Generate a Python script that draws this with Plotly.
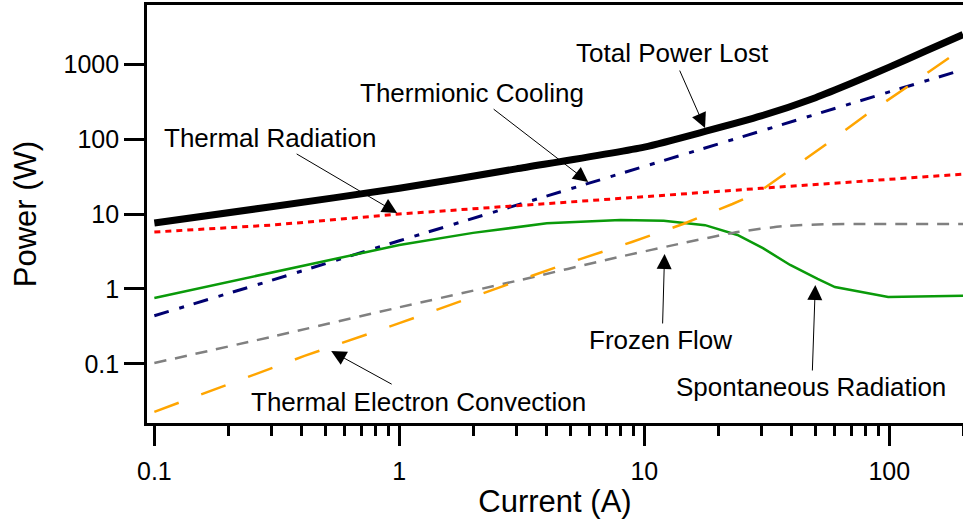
import math
import plotly.graph_objects as go

# ---------------- data ----------------
total_x = [0.1, 0.3, 1, 3, 10, 18, 30, 50, 70, 100, 140, 200]
total_y = [7.6, 12.5, 22, 40, 78, 128, 203, 356, 553, 910, 1480, 2470]

thermionic_x = [0.1, 0.3, 1, 3, 10, 30, 100, 200]
thermionic_y = [0.44, 1.3, 4.4, 13, 43, 128, 425, 840]

radiation_x = [0.1, 0.3, 1, 3, 10, 30, 100, 200]
radiation_y = [5.75, 7.1, 10, 12.8, 17, 22, 29, 34]

spont_x = [0.1, 0.3, 1, 2, 4, 8, 12, 17.7, 24, 30.5, 39.4, 51, 60, 99, 200]
spont_y = [0.76, 1.65, 3.86, 5.6, 7.5, 8.3, 8.1, 7.1, 5.25, 3.5, 2.09, 1.36, 1.06, 0.78, 0.81]

frozen_x = [0.1, 0.3, 1, 3, 8, 14.4, 24, 37, 55, 80, 200]
frozen_y = [0.103, 0.23, 0.57, 1.28, 2.7, 4.1, 5.75, 6.9, 7.3, 7.35, 7.35]

convection_x = [0.1, 0.41, 1, 4.4, 8.9, 14.4, 22.9, 28.9, 53.3, 80, 120, 181, 200]
convection_y = [0.023, 0.128, 0.35, 1.97, 4.24, 7.35, 13.6, 19, 78, 208, 510, 1290, 1630]

y_tickvals = [0.1, 1, 10, 100, 1000]
y_ticktext = ["0.1", "1", "10", "100", "1000"]
x_tickvals = [0.1, 1, 10, 100]
x_ticktext = ["0.1", "1", "10", "100"]
x_minor = [0.2, 0.3, 0.4, 0.5, 0.6, 0.7, 0.8, 0.9,
           2, 3, 4, 5, 6, 7, 8, 9,
           20, 30, 40, 50, 60, 70, 80, 90, 200]

# label text, label centre (paper), arrow head (data), arrow tail offset (px)
labels = [
    ("Total Power Lost", 0.6446, 0.8852, 17.7, 140, -26, -59),
    ("Thermionic Cooling", 0.3983, 0.7895, 5.9, 26.7, -96, -74),
    ("Thermal Radiation", 0.1507, 0.6818, 0.98, 10.3, -102, -60),
    ("Thermal Electron Convection", 0.3333, 0.0502, 0.527, 0.149, 62, 34),
    ("Frozen Flow", 0.6299, 0.1986, 12.1, 2.93, -2, 71),
    ("Spontaneous Radiation", 0.8137, 0.0861, 49.9, 1.13, -3, 87),
]

FONT = "Liberation Sans, Arial, Helvetica, sans-serif"

fig = go.Figure()
fig.add_trace(go.Scatter(x=total_x, y=total_y, mode="lines",
                         line=dict(color="black", width=7, shape="spline", smoothing=0.6),
                         name="Total Power Lost"))
fig.add_trace(go.Scatter(x=thermionic_x, y=thermionic_y, mode="lines",
                         line=dict(color="#000070", width=3, dash="15px,11px,5px,10px"),
                         name="Thermionic Cooling"))
fig.add_trace(go.Scatter(x=radiation_x, y=radiation_y, mode="lines",
                         line=dict(color="#ff0000", width=3, dash="6px,5px"),
                         name="Thermal Radiation"))
fig.add_trace(go.Scatter(x=spont_x, y=spont_y, mode="lines",
                         line=dict(color="#0a9a0a", width=2.5),
                         name="Spontaneous Radiation"))
fig.add_trace(go.Scatter(x=frozen_x, y=frozen_y, mode="lines",
                         line=dict(color="#808080", width=2.5, dash="12px,9px",
                                   shape="spline", smoothing=0.5),
                         name="Frozen Flow"))
fig.add_trace(go.Scatter(x=convection_x, y=convection_y, mode="lines",
                         line=dict(color="#ffa500", width=2.5, dash="26px,24px"),
                         name="Thermal Electron Convection"))

annotations = []
for text, tx, ty, hx, hy, ax, ay in labels:
    annotations.append(dict(text=text, xref="paper", yref="paper", x=tx, y=ty,
                            xanchor="center", yanchor="middle", showarrow=False,
                            font=dict(size=26, color="black", family=FONT)))
    annotations.append(dict(text="", xref="x", yref="y",
                            x=math.log10(hx), y=math.log10(hy),
                            ax=ax, ay=ay, axref="pixel", ayref="pixel",
                            showarrow=True, arrowhead=2, arrowsize=3,
                            arrowwidth=1, arrowcolor="black", standoff=0))

fig.update_layout(
    width=963, height=519,
    margin=dict(l=147, r=0, t=5, b=96, autoexpand=False),
    paper_bgcolor="white", plot_bgcolor="white",
    showlegend=False,
    font=dict(family=FONT, color="black", size=25),
    annotations=annotations,
)
fig.update_xaxes(
    type="log", range=[-1.030, 2.301], automargin=False,
    tickvals=x_tickvals, ticktext=x_ticktext,
    ticks="outside", ticklen=20, tickwidth=2.5, tickcolor="black",
    ticklabelstandoff=4,
    minor=dict(tickvals=x_minor, ticks="outside", ticklen=10, tickwidth=2.5, tickcolor="black",
               showgrid=False),
    showline=True, linecolor="black", linewidth=2.7, mirror=True,
    showgrid=False, zeroline=False,
    tickfont=dict(size=25),
    title=dict(text="Current (A)", font=dict(size=31), standoff=0),
)
fig.update_yaxes(
    type="log", range=[-1.787, 3.787], automargin=False,
    tickvals=y_tickvals, ticktext=y_ticktext,
    ticks="outside", ticklen=20, tickwidth=2.5, tickcolor="black",
    showline=True, linecolor="black", linewidth=2.7, mirror=False,
    showgrid=False, zeroline=False,
    tickfont=dict(size=25),
    title=dict(text="Power (W)", font=dict(size=31), standoff=18),
)

fig.write_html("out.html",
               config={"displayModeBar": False},
               post_script="document.body.style.margin='0';document.body.style.overflow='hidden';")
